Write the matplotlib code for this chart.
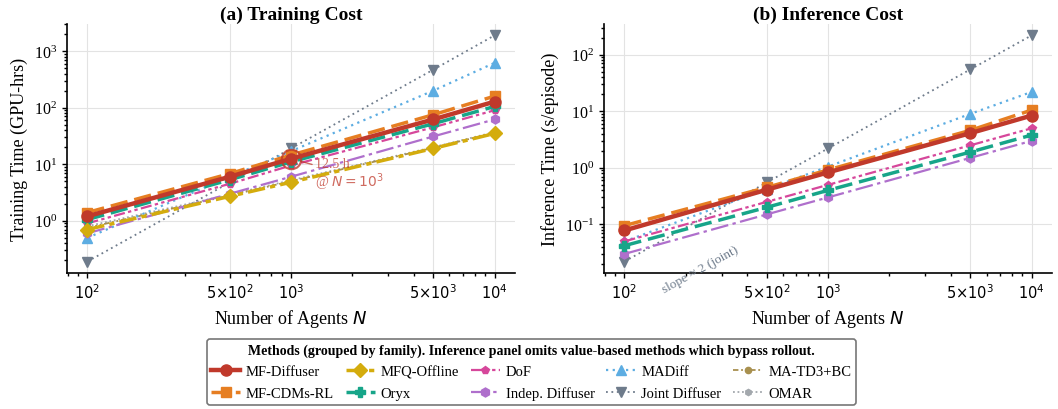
import matplotlib
matplotlib.use("Agg")
import matplotlib.pyplot as plt
import numpy as np

plt.rcParams['font.family'] = ['Liberation Serif', 'DejaVu Serif']
plt.rcParams['mathtext.fontset'] = 'dejavusans'

# ---------------- data ----------------
agents = [100, 500, 1000, 5000, 10000]
xtick_labels = [r'$10^2$', r'$5{\times}10^2$', r'$10^3$', r'$5{\times}10^3$', r'$10^4$']

methods = ['MF-Diffuser', 'MF-CDMs-RL', 'MFQ-Offline', 'Oryx', 'DoF',
           'Indep. Diffuser', 'MADiff', 'Joint Diffuser', 'MA-TD3+BC', 'OMAR']

train_mf_diffuser = [1.2, 6.0, 12.5, 62, 128]
train_mf_cdms = [1.4, 6.8, 14.5, 75, 160]
train_mfq = [0.7, 2.7, 4.8, 19, 35]
train_oryx = [1.05, 5.3, 11, 52, 105]
train_dof = [0.9, 4.5, 9.5, 45, 90]
train_indep = [0.6, 3.0, 6.0, 31, 62]
train_madiff = [0.5, 6.0, 17, 200, 620]
train_joint = [0.19, 4.75, 19, 470, 1900]
train_matd3 = [0.75, 2.8, 5.0, 19.5, 36]
train_omar = [0.8, 2.9, 5.2, 20, 37]

inf_mf_diffuser = [0.078, 0.41, 0.83, 4.1, 8.4]
inf_mf_cdms = [0.095, 0.45, 0.92, 4.6, 10.5]
inf_oryx = [0.042, 0.2, 0.4, 1.9, 3.8]
inf_dof = [0.05, 0.25, 0.5, 2.5, 5.0]
inf_indep = [0.03, 0.15, 0.3, 1.5, 3.0]
inf_madiff = [0.05, 0.42, 1.05, 9.0, 22]
inf_joint = [0.022, 0.55, 2.2, 55, 220]

train_data = {
    'MF-Diffuser': train_mf_diffuser, 'MF-CDMs-RL': train_mf_cdms,
    'MFQ-Offline': train_mfq, 'Oryx': train_oryx, 'DoF': train_dof,
    'Indep. Diffuser': train_indep, 'MADiff': train_madiff,
    'Joint Diffuser': train_joint, 'MA-TD3+BC': train_matd3, 'OMAR': train_omar,
}
inf_data = {
    'MF-Diffuser': inf_mf_diffuser, 'MF-CDMs-RL': inf_mf_cdms,
    'Oryx': inf_oryx, 'DoF': inf_dof, 'Indep. Diffuser': inf_indep,
    'MADiff': inf_madiff, 'Joint Diffuser': inf_joint,
}

# ---------------- styles ----------------
styles = {
    'MF-Diffuser':     dict(color='#C0392B', ls='-', lw=3.2, marker='o', ms=8, zorder=10),
    'MF-CDMs-RL':      dict(color='#E67E22', ls=(0, (5, 2)), lw=2.5, marker='s', ms=6.5, zorder=9),
    'MFQ-Offline':     dict(color='#D4AC0D', ls=(0, (5, 1.5, 1.5, 1.5)), lw=2.5, marker='D', ms=7, zorder=8),
    'Oryx':            dict(color='#17A589', ls=(0, (5, 2)), lw=2.5, marker='P', ms=7, zorder=7),
    'DoF':             dict(color='#D6479B', ls=(0, (5, 1.5, 1.5, 1.5, 1.5, 1.5)), lw=1.6, marker='p', ms=6, zorder=6),
    'Indep. Diffuser': dict(color='#AF6FCC', ls=(0, (8, 2, 1.5, 2)), lw=1.6, marker='h', ms=6.5, zorder=5),
    'MADiff':          dict(color='#5DADE2', ls=(0, (1, 2)), lw=1.6, marker='^', ms=7, zorder=4),
    'Joint Diffuser':  dict(color='#6E7B8B', ls=(0, (1, 2)), lw=1.3, marker='v', ms=7, zorder=3),
    'MA-TD3+BC':       dict(color='#A8904F', ls=(0, (3, 1.5, 1, 1.5, 1, 1.5)), lw=1.3, marker='o', ms=4.5, zorder=2),
    'OMAR':            dict(color='#A3A8AD', ls=(0, (1, 1.5)), lw=1.3, marker='h', ms=4.5, zorder=1),
}

fig = plt.figure(figsize=(10.58, 4.10), dpi=100)
ax1 = fig.add_axes([0.0633, 0.332, 0.4235, 0.607])
ax2 = fig.add_axes([0.5709, 0.332, 0.4235, 0.607])

handles = {}
for name in methods:
    st = styles[name]
    h, = ax1.plot(agents, train_data[name], color=st['color'], linestyle=st['ls'],
                  linewidth=st['lw'], marker=st['marker'], markersize=st['ms'],
                  zorder=st['zorder'], label=name)
    handles[name] = h
    if name in inf_data:
        ax2.plot(agents, inf_data[name], color=st['color'], linestyle=st['ls'],
                 linewidth=st['lw'], marker=st['marker'], markersize=st['ms'],
                 zorder=st['zorder'])

for ax, title, ylabel in [(ax1, '(a) Training Cost', 'Training Time (GPU-hrs)'),
                          (ax2, '(b) Inference Cost', 'Inference Time (s/episode)')]:
    ax.set_xscale('log')
    ax.set_yscale('log')
    ax.set_xticks(agents)
    ax.set_xticklabels(xtick_labels, fontsize=10.5)
    ax.set_title(title, fontsize=14, fontweight='bold', pad=4)
    ax.set_ylabel(ylabel, fontsize=13)
    ax.set_xlabel(r'Number of Agents $N$', fontsize=13)
    ax.grid(True, which='major', color='#E3E3E3', linewidth=0.8)
    ax.set_axisbelow(True)
    for s in ['top', 'right']:
        ax.spines[s].set_visible(False)
    for s in ['left', 'bottom']:
        ax.spines[s].set_linewidth(1.2)
    ax.tick_params(axis='y', labelsize=11.5)
    ax.tick_params(which='both', width=1.0)

# annotation on training panel
ax1.plot([1000], [12.5], marker='o', ms=14, mfc='none', mec='#C0392B', mew=1.5,
         alpha=0.8, zorder=11)
ax1.annotate('12.5 h\n@ $N=10^3$', xy=(1000, 12.5), xytext=(1310, 13.5),
             fontsize=10, color='#C0392B', alpha=0.75, ha='left', va='top',
             linespacing=1.05, zorder=12,
             arrowprops=dict(arrowstyle='-', color='#C0392B', lw=1.0, alpha=0.75,
                             shrinkA=0, shrinkB=7))

# slope annotation on inference panel
ax2.text(235, 0.0165, 'slope \u2248 2 (joint)', fontsize=9.5, color='#6E7B8B',
         rotation=29, ha='center', va='center', clip_on=False)

leg = fig.legend([handles[m] for m in methods], methods, loc='lower center',
                 bbox_to_anchor=(0.502, 0.0), ncol=5, fontsize=10.5,
                 title='Methods (grouped by family). Inference panel omits value-based methods which bypass rollout.',
                 title_fontproperties={'weight': 'bold', 'size': 10},
                 frameon=True, fancybox=True, edgecolor='#555555',
                 handlelength=2.0, columnspacing=0.8, handletextpad=0.4,
                 borderpad=0.3, labelspacing=0.55, borderaxespad=0.3)
leg.get_frame().set_linewidth(1.2)

fig.savefig('out.png', dpi=100)
